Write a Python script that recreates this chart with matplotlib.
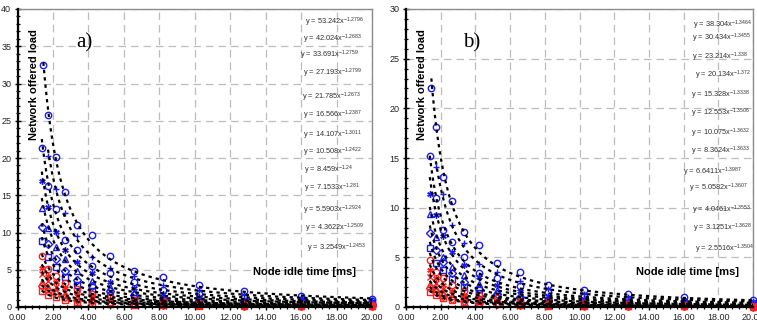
import numpy as np
import matplotlib
matplotlib.use('Agg')
import matplotlib.pyplot as plt
from matplotlib.ticker import MultipleLocator, FormatStrFormatter

plt.rcParams['font.family'] = ['Liberation Sans', 'DejaVu Sans']
plt.rcParams['mathtext.fontset'] = 'custom'
plt.rcParams['mathtext.rm'] = 'Liberation Sans'
plt.rcParams['mathtext.it'] = 'Liberation Sans:italic'

nan = np.nan
# common idle-time grid [ms]
X = [1.37, 1.72, 2.15, 2.68, 3.36, 4.19, 5.24, 6.55, 8.19, 10.24, 12.8, 16.0, 20.0]
FIRST_X = [1.46, 1.72, 1.37, 1.37, 1.37, 1.37, 1.37, 1.37, 1.37, 1.37, 1.37, 1.37, 1.37]

# ---- panel a) ----
A_COEF = [53.242, 42.024, 33.691, 27.193, 21.785, 16.566, 14.107, 10.508, 8.459, 7.1533, 5.5903, 4.3622, 3.2549]
A_EXP = [-1.2796, -1.2683, -1.2759, -1.2799, -1.2673, -1.2387, -1.3011, -1.2422, -1.24, -1.281, -1.2924, -1.2509, -1.2453]
A_S1 = [32.5, 25.8, 20.1, 15.5, 11.0, 9.6, 6.9, 4.8, 4.0, 2.9, 2.1, 1.5, 1.1]
A_S2 = [nan, 20.3, 15.8, 12.6, 9.5, 6.7, 5.2, 4.2, 3.0, 2.3, 1.6, 1.2, 0.9]
A_S3 = [21.4, 16.2, 13.1, 9.0, 7.7, 5.5, 4.5, 3.3, 2.3, 1.8, 1.3, 1.0, 0.75]
A_S4 = [16.9, 13.4, 10.1, 7.7, 6.1, 4.5, 3.3, 2.5, 1.8, 1.4, 1.0, 0.8, 0.6]
A_S5 = [13.3, 10.6, 8.0, 6.5, 4.8, 3.5, 2.7, 2.0, 1.5, 1.1, 0.85, 0.65, 0.5]
A_S6 = [10.7, 8.4, 6.5, 4.8, 3.6, 2.8, 2.1, 1.6, 1.2, 0.9, 0.7, 0.53, 0.4]
A_S7 = [8.8, 6.7, 5.4, 4.0, 2.9, 2.2, 1.6, 1.2, 0.9, 0.7, 0.5, 0.38, 0.28]
A_S8 = [6.8, 5.1, 4.2, 3.2, 2.4, 1.8, 1.35, 1.0, 0.8, 0.6, 0.45, 0.34, 0.26]
A_S9 = [5.3, 4.2, 3.3, 2.5, 1.9, 1.45, 1.1, 0.8, 0.62, 0.47, 0.36, 0.27, 0.2]
A_S10 = [4.4, 3.5, 2.7, 2.0, 1.5, 1.15, 0.86, 0.65, 0.48, 0.36, 0.27, 0.2, 0.15]
A_S11 = [3.3, 2.7, 2.1, 1.6, 1.2, 0.88, 0.66, 0.5, 0.37, 0.28, 0.21, 0.16, 0.12]
A_S12 = [2.8, 2.2, 1.7, 1.3, 1.0, 0.74, 0.56, 0.42, 0.32, 0.24, 0.18, 0.14, 0.1]
A_S13 = [2.1, 1.6, 1.3, 0.95, 0.72, 0.55, 0.42, 0.32, 0.24, 0.18, 0.14, 0.1, 0.08]
A_SERIES = [A_S1, A_S2, A_S3, A_S4, A_S5, A_S6, A_S7, A_S8, A_S9, A_S10, A_S11, A_S12, A_S13]

# ---- panel b) ----
B_COEF = [38.304, 30.434, 23.214, 20.134, 15.328, 12.553, 10.075, 8.3624, 6.6411, 5.0582, 4.0461, 3.1251, 2.5516]
B_EXP = [-1.3464, -1.3455, -1.338, -1.372, -1.3338, -1.3506, -1.3632, -1.3633, -1.3987, -1.3607, -1.3553, -1.3628, -1.3504]
B_S1 = [22.0, 18.1, 13.1, 10.7, 7.6, 6.2, 4.4, 3.5, 2.2, 1.7, 1.3, 1.0, 0.7]
B_S2 = [nan, 14.1, 11.4, 8.3, 6.4, 4.3, 3.5, 2.6, 1.8, 1.35, 1.0, 0.75, 0.55]
B_S3 = [15.2, 11.0, 7.8, 6.5, 5.0, 3.4, 2.9, 2.1, 1.5, 1.1, 0.8, 0.6, 0.45]
B_S4 = [11.4, 9.3, 7.1, 5.5, 4.2, 3.0, 2.2, 1.6, 1.15, 0.85, 0.62, 0.45, 0.33]
B_S5 = [9.4, 7.0, 5.0, 4.0, 3.2, 2.3, 1.7, 1.25, 0.9, 0.66, 0.49, 0.36, 0.27]
B_S6 = [7.5, 5.7, 4.5, 3.4, 2.5, 1.8, 1.35, 1.0, 0.73, 0.54, 0.4, 0.3, 0.22]
B_S7 = [5.9, 4.4, 3.7, 2.8, 2.0, 1.45, 1.06, 0.78, 0.58, 0.43, 0.32, 0.23, 0.17]
B_S8 = [4.7, 3.5, 2.9, 2.2, 1.6, 1.2, 0.88, 0.65, 0.48, 0.36, 0.26, 0.19, 0.14]
B_S9 = [3.7, 2.9, 2.2, 1.6, 1.2, 0.9, 0.66, 0.48, 0.35, 0.26, 0.19, 0.14, 0.1]
B_S10 = [3.0, 2.4, 1.8, 1.3, 0.98, 0.73, 0.54, 0.4, 0.3, 0.22, 0.16, 0.12, 0.09]
B_S11 = [2.3, 1.9, 1.45, 1.07, 0.79, 0.58, 0.43, 0.32, 0.24, 0.17, 0.13, 0.1, 0.07]
B_S12 = [1.9, 1.5, 1.1, 0.82, 0.6, 0.45, 0.33, 0.25, 0.18, 0.13, 0.1, 0.07, 0.05]
B_S13 = [1.5, 1.2, 0.9, 0.67, 0.5, 0.37, 0.27, 0.2, 0.15, 0.11, 0.08, 0.06, 0.045]
B_SERIES = [B_S1, B_S2, B_S3, B_S4, B_S5, B_S6, B_S7, B_S8, B_S9, B_S10, B_S11, B_S12, B_S13]

ASTER = (6, 2, 0)
MARKERS = ['o', '+', 'o', ASTER, '^', 'D', 's', 'o', ASTER, 'x', '^', 'D', 's']
COLORS = ['#1a1aff'] * 7 + ['#ff2020'] * 6

# equation label positions (pixels in the 757x325 canvas)
A_EQ_PX = [305, 303, 300, 303, 302, 303, 303, 303, 304, 304, 303, 305, 307]
A_EQ_PY = [22, 39, 55, 73, 97, 115, 135, 152, 170, 188, 210, 228, 248]
B_EQ_PX = [693, 692, 692, 695, 691, 691, 691, 691, 683, 689, 692, 693, 695]
B_EQ_PY = [25, 38, 57, 75, 95, 113, 133, 151, 172, 188, 210, 228, 249]

W, H = 757, 325
fig = plt.figure(figsize=(W / 100, H / 100), dpi=100)
fig.patch.set_facecolor('white')

def setup(ax, ymax, label):
    ax.set_xlim(0, 20)
    ax.set_ylim(0, ymax)
    ax.xaxis.set_major_locator(MultipleLocator(2))
    ax.xaxis.set_minor_locator(MultipleLocator(0.4))
    ax.yaxis.set_major_locator(MultipleLocator(5))
    ax.yaxis.set_minor_locator(MultipleLocator(1))
    ax.xaxis.set_major_formatter(FormatStrFormatter('%.2f'))
    ax.grid(True, which='major', color='#bcbcbc', linestyle=(0, (6, 4)), linewidth=0.9, zorder=0)
    for s in ['top', 'right']:
        ax.spines[s].set_color('#8c8c8c')
        ax.spines[s].set_linewidth(1.0)
    for s in ['left', 'bottom']:
        ax.spines[s].set_color('black')
        ax.spines[s].set_linewidth(1.6)
        ax.spines[s].set_zorder(6)
    ax.tick_params(which='major', direction='inout', length=5, width=1.0, labelsize=6.5,
                   colors='black', labelcolor='#222222', pad=2, top=False, right=False)
    ax.tick_params(which='minor', direction='inout', length=3.5, width=0.9, top=False, right=False)
    ax.text(0.046, 0.745, 'Network offered load', transform=ax.transAxes, rotation=90,
            ha='center', va='center', fontsize=8, fontweight='bold')
    ax.text(0.81, 0.117, 'Node idle time [ms]', transform=ax.transAxes,
            ha='center', va='center', fontsize=8, fontweight='bold')
    ax.text(0.19, 0.885, label, transform=ax.transAxes, ha='center', va='center',
            fontsize=15, family='Liberation Serif')

def draw(ax, series, coefs, exps, eq_px, eq_py):
    for i, ys in enumerate(series):
        xs = list(X)
        xs[0] = FIRST_X[i]
        ax.plot(xs, ys, linestyle='none', marker=MARKERS[i], markersize=4.6 if MARKERS[i] != 'D' else 3.6,
                markerfacecolor='none', markeredgecolor=COLORS[i], markeredgewidth=1.0,
                zorder=3, clip_on=False)
        xt = np.geomspace(FIRST_X[i], 20.0, 200)
        ax.plot(xt, coefs[i] * xt ** exps[i], color='black', linestyle=(0, (1.5, 1.8)),
                linewidth=1.6, zorder=4)
        fig.text(eq_px[i] / W, 1 - eq_py[i] / H,
                 'y = %sx$^{%s}$' % (coefs[i], exps[i]),
                 ha='left', va='center', fontsize=5.3, color='#303030')

axA = fig.add_axes([17.5 / W, (H - 307) / H, 354.5 / W, 298 / H])
setup(axA, 40, 'a)')
draw(axA, A_SERIES, A_COEF, A_EXP, A_EQ_PX, A_EQ_PY)

axB = fig.add_axes([406 / W, (H - 307) / H, 347 / W, 298 / H])
setup(axB, 30, 'b)')
draw(axB, B_SERIES, B_COEF, B_EXP, B_EQ_PX, B_EQ_PY)

fig.savefig('out.png', dpi=100, facecolor='white')
